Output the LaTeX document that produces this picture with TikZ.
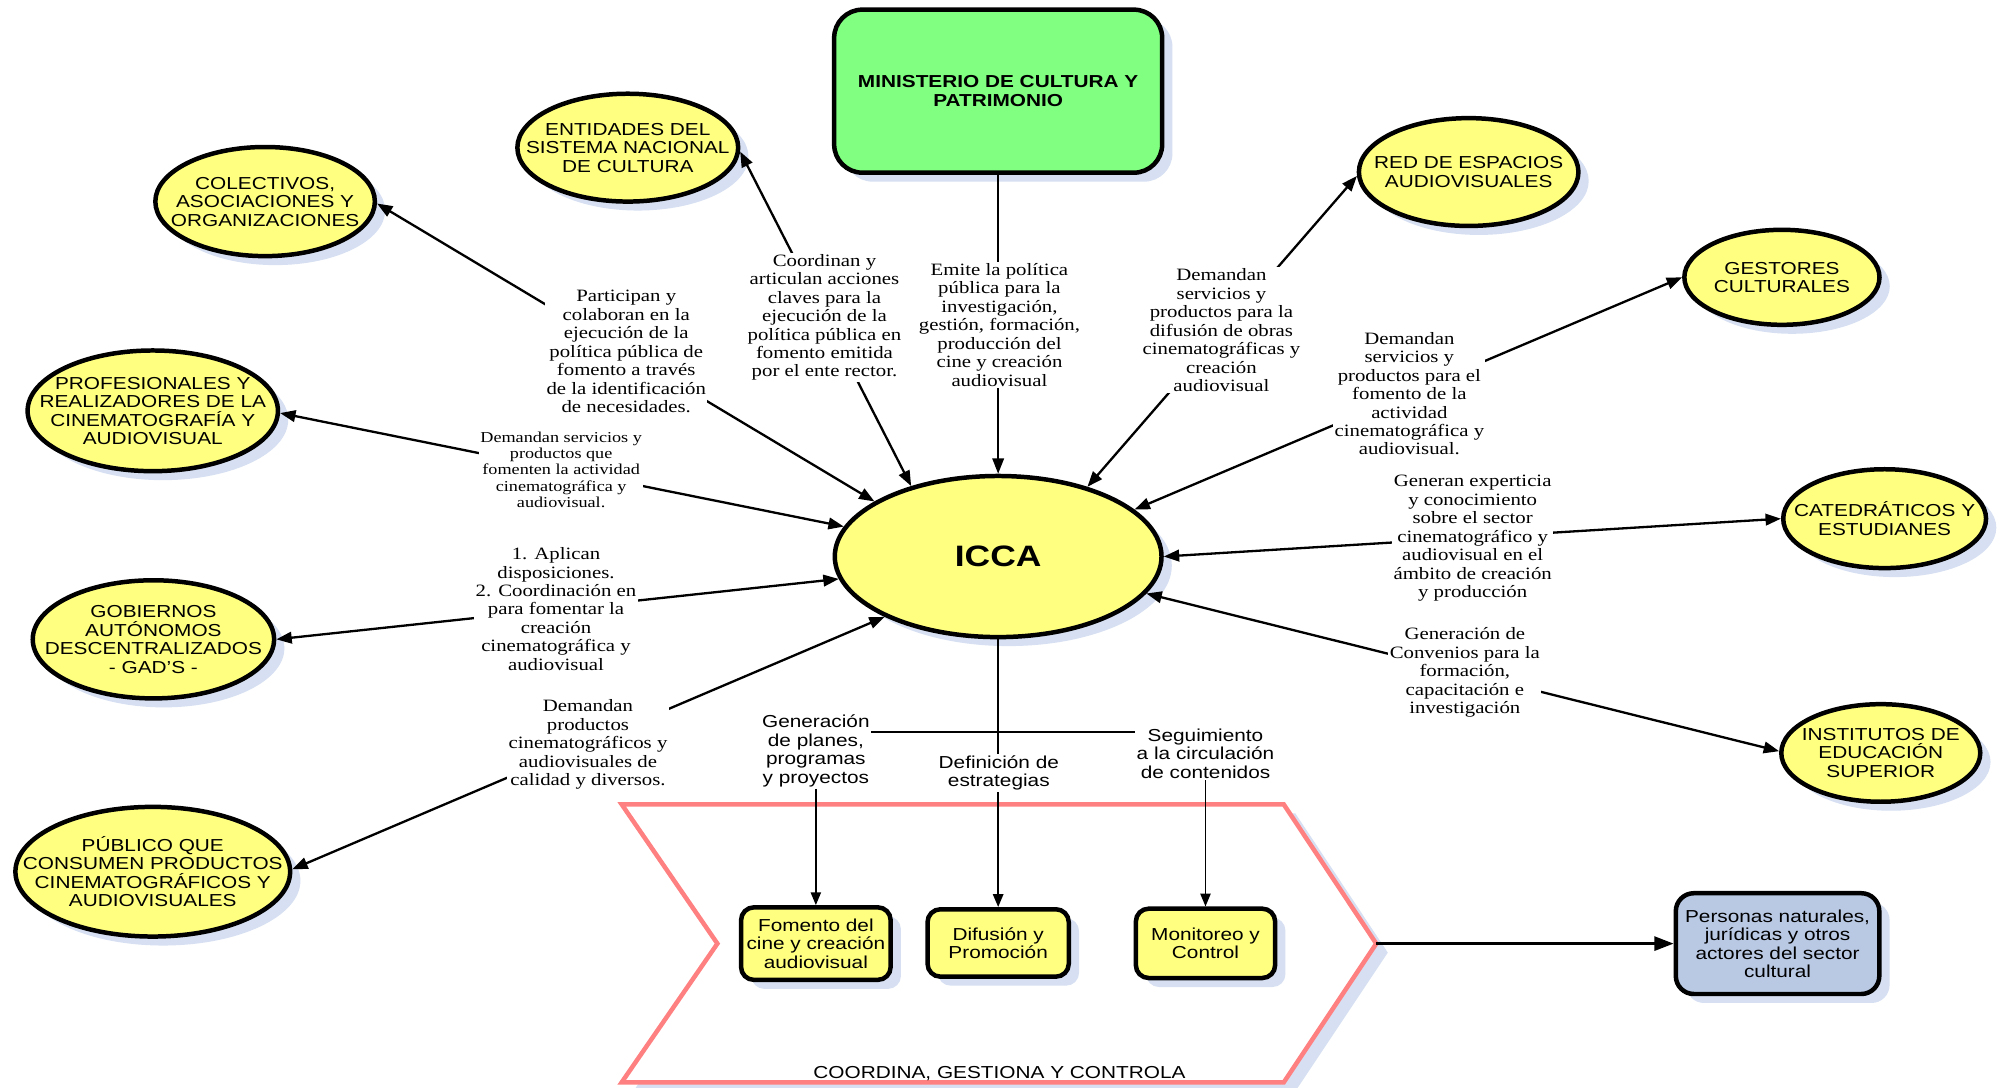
\documentclass[tikz,border=0pt]{standalone}
\usepackage{fontspec}
\setmainfont{Liberation Serif}[FakeStretch=1.2]
\setsansfont{Liberation Sans}[FakeStretch=1.2]
\usetikzlibrary{shapes.geometric,arrows.meta,shadows}
\definecolor{ovalyellow}{RGB}{255,255,128}
\definecolor{mingreen}{RGB}{128,255,128}
\definecolor{perblue}{RGB}{185,201,228}
\definecolor{shadowblue}{RGB}{214,224,242}
\definecolor{chevred}{RGB}{255,128,128}
\tikzset{
  shad/.style={drop shadow={shadow xshift=8pt,shadow yshift=-7pt,fill=shadowblue,opacity=1}},
  oval/.style={ellipse,draw=black,line width=3.5pt,fill=ovalyellow,inner xsep=-40pt,inner ysep=0pt,
    align=center,font=\sffamily\fontsize{13.5}{14.4}\selectfont,shad},
  rbox/.style={rectangle,rounded corners=10pt,draw=black,line width=3.5pt,fill=ovalyellow,inner sep=0pt,
    align=center,font=\sffamily\fontsize{13.5}{14.4}\selectfont,shad},
  lab/.style={fill=white,inner sep=1pt,align=center,font=\rmfamily\fontsize{13.5}{14.4}\selectfont},
  slab/.style={fill=white,inner sep=1pt,align=center,font=\rmfamily\fontsize{11.8}{12.6}\selectfont},
  blab/.style={inner sep=1pt,align=center,font=\sffamily\fontsize{13.5}{14.6}\selectfont},
  rad/.style={line width=1.8pt,arrows={Triangle[length=12pt,width=9pt]-Triangle[length=12pt,width=9pt]}},
  onearrow/.style={line width=1.8pt,arrows={-Triangle[length=12pt,width=9pt]}},
  fineline/.style={line width=1.2pt},
  finearrow/.style={line width=1.2pt,arrows={-Triangle[length=10pt,width=8pt]}},
}
\begin{document}
\begin{tikzpicture}[x=1pt,y=-1pt]
\path[fill=white,use as bounding box] (0,0) rectangle (1568,847);

% chevron (COORDINA, GESTIONA Y CONTROLA)
\fill[shadowblue,shift={(9,7)}] (484.3,626.6) -- (1000,626.6) -- (1072,735) -- (1000,843) -- (484.3,843) -- (558.8,735) -- cycle;
\draw[chevred,line width=3.5pt,fill=white] (484.3,626.6) -- (1000,626.6) -- (1072,735) coordinate (ctip) -- (1000,843) -- (484.3,843) -- (558.8,735) -- cycle;

% main nodes
\node[rectangle,rounded corners=22pt,draw=black,line width=3.5pt,fill=mingreen,minimum width=255.5pt,
  minimum height=127pt,inner sep=0pt,align=center,font=\sffamily\bfseries\fontsize{13.5}{15}\selectfont,shad]
  (min) at (777.5,71) {MINISTERIO DE CULTURA Y\\PATRIMONIO};
\node[oval,inner sep=0pt,minimum width=254.5pt,minimum height=125.5pt,font=\sffamily\bfseries\fontsize{23}{24}\selectfont]
  (icca) at (777.5,433.5) {ICCA};
\node[oval,minimum width=172pt,minimum height=84pt] (ent) at (489,115) {ENTIDADES DEL\\SISTEMA NACIONAL\\DE CULTURA};
\node[oval,minimum width=171pt,minimum height=85pt] (col) at (206.5,157) {COLECTIVOS,\\ASOCIACIONES Y\\ORGANIZACIONES};
\node[oval,minimum width=195pt,minimum height=94pt] (prof) at (119,320) {PROFESIONALES Y\\REALIZADORES DE LA\\CINEMATOGRAFÍA Y\\AUDIOVISUAL};
\node[oval,minimum width=188pt,minimum height=92pt] (gob) at (119.5,498) {GOBIERNOS\\AUTÓNOMOS\\DESCENTRALIZADOS\\- GAD'S -};
\node[oval,minimum width=214pt,minimum height=101pt] (pub) at (119,679) {PÚBLICO QUE\\CONSUMEN PRODUCTOS\\CINEMATOGRÁFICOS Y\\AUDIOVISUALES};
\node[oval,minimum width=171pt,minimum height=84pt] (red) at (1144,134) {RED DE ESPACIOS\\AUDIOVISUALES};
\node[oval,minimum width=152pt,minimum height=74pt] (gest) at (1388,216) {GESTORES\\CULTURALES};
\node[oval,minimum width=158pt,minimum height=77pt] (cat) at (1468,404) {CATEDRÁTICOS Y\\ESTUDIANES};
\node[oval,minimum width=155pt,minimum height=76pt] (inst) at (1465,586.5) {INSTITUTOS DE\\EDUCACIÓN\\SUPERIOR};

\node[rbox,rounded corners=14pt,fill=perblue,minimum width=158.5pt,minimum height=78.5pt] (per) at (1384.6,735)
  {Personas naturales,\\jurídicas y otros\\actores del sector\\cultural};
\node[rbox,minimum width=116.5pt,minimum height=56.5pt] (fom) at (635.5,735) {Fomento del\\cine y creación\\audiovisual};
\node[rbox,minimum width=110pt,minimum height=52.5pt] (dif) at (777.5,734.5) {Difusión y\\Promoción};
\node[rbox,minimum width=108.5pt,minimum height=54pt] (mon) at (939,734.8) {Monitoreo y\\Control};

% bottom labels
\node[blab] (gen) at (635.5,585) {Generación\\de planes,\\programas\\y proyectos};
\node[blab] (seg) at (939,587) {Seguimiento\\a la circulación\\de contenidos};

% connectors
\draw[rad] (col.-1) -- (icca.156);
\draw[rad] (ent.-2) -- (icca.141);
\draw[rad] (prof.-1) -- (icca.169);
\draw[rad] (gob.0) -- (icca.-172);
\draw[rad] (pub.1) -- (icca.-152);
\draw[rad] (red.-178) -- (icca.38);
\draw[rad] (gest.180) -- (icca.19);
\draw[rad] (cat.180) -- (icca.0);
\draw[rad] (inst.179) -- (icca.-14);
\draw[onearrow,line width=1.6pt] (min.south) -- (icca.north);
\draw[finearrow,line width=1.5pt] (icca.south) -- (dif.north);
\draw[fineline] ([yshift=14.7pt]gen.east) -- ([yshift=16.7pt]seg.west);
\draw[finearrow] (gen.south) -- (fom.north);
\draw[finearrow] (seg.south) -- (mon.north);
\draw[line width=2pt,arrows={-Triangle[length=15pt,width=11pt]}] (ctip) -- (per.west);

% connector labels
\node[lab] (lcol) at (487.8,273.9) {Participan y\\colaboran en la\\ejecución de la\\política pública de\\fomento a través\\de la identificación\\de necesidades.};
\node[lab] (lent) at (642.2,247.2) {Coordinan y\\articulan acciones\\claves para la\\ejecución de la\\política pública en\\fomento emitida\\por el ente rector.};
\node[lab] (lemi) at (778.5,253) {Emite la política\\pública para la\\investigación,\\gestión, formación,\\producción del\\cine y creación\\audiovisual};
\node[lab] (lred) at (951.4,257.3) {Demandan\\servicios y\\productos para la\\difusión de obras\\cinematográficas y\\creación\\audiovisual};
\node[lab] (lgest) at (1097.8,306.6) {Demandan\\servicios y\\productos para el\\fomento de la\\actividad\\cinematográfica y\\audiovisual.};
\node[slab] (lprof) at (437.1,365.9) {Demandan servicios y\\productos que\\fomenten la actividad\\cinematográfica y\\audiovisual.};
\node[lab] (lgob) at (433.1,474.4) {1. Aplican\\disposiciones.\\2. Coordinación en\\para fomentar la\\creación\\cinematográfica y\\audiovisual};
\node[lab] (lpub) at (458,579.9) {Demandan\\productos\\cinematográficos y\\audiovisuales de\\calidad y diversos.};
\node[lab] (lcat) at (1147.1,419.2) {Generan experticia\\y conocimiento\\sobre el sector\\cinematográfico y\\audiovisual en el\\ámbito de creación\\y producción};
\node[lab] (linst) at (1141,524) {Generación de\\Convenios para la\\formación,\\capacitación e\\investigación};
\node[blab,fill=white] (def) at (778,602) {Definición de\\estrategias};
\node[blab] (coord) at (778.5,836) {COORDINA, GESTIONA Y CONTROLA};
\end{tikzpicture}
\end{document}
